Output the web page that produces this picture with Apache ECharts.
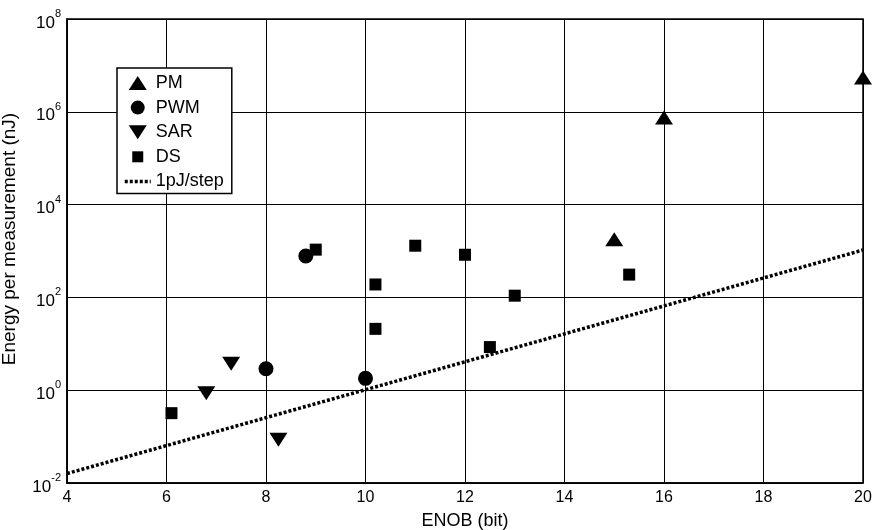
<!DOCTYPE html>
<html><head><meta charset="utf-8">
<script src="https://cdn.jsdelivr.net/npm/echarts@6/dist/echarts.min.js"></script>
<style>html,body{margin:0;padding:0;background:#fff}#c{width:876px;height:530px}</style>
</head><body><div id="c"></div>
<script>
const pmX = [15, 16, 20];
const pmY = [1800, 750000, 5500000];
const pwmX = [8, 8.8, 10];
const pwmY = [2.9, 780, 1.8];
const sarX = [6.8, 7.3, 8.25];
const sarY = [0.86, 3.7, 0.085];
const dsX = [6.1, 9.0, 10.2, 10.2, 11, 12, 12.5, 13, 15.3];
const dsY = [0.32, 1070, 190, 21, 1300, 830, 8.5, 109, 310];
const refX = [4, 20];
const refY = [0.016, 1049];
const xTicks = [4, 6, 8, 10, 12, 14, 16, 18, 20];
const yExps = [-2, 0, 2, 4, 6, 8];
const legendNames = ['PM', 'PWM', 'SAR', 'DS', '1pJ/step'];

const zip = (a, b) => a.map((v, i) => [v, b[i]]);
const FONT = 'Liberation Sans';
const upTri = 'path://M9,0 L18,14 L0,14 Z';
const downTri = 'path://M0,0 L18,0 L9,14 Z';
const sq = 'path://M-1.5,-1.5 M0,0 L11,0 L11,11 L0,11 Z M12.5,12.5';
const dotStyle = {color: '#000', width: 3.5, type: [3, 2]};

const chart = echarts.init(document.getElementById('c'), null, {renderer: 'canvas'});
chart.setOption({
  animation: false,
  textStyle: {fontFamily: FONT, color: '#000'},
  grid: {left: 67, right: 13, top: 19, bottom: 47, containLabel: false, outerBoundsMode: 'none',
         show: true, borderColor: '#000', borderWidth: 1.5, backgroundColor: 'transparent'},
  legend: {
    orient: 'vertical', left: 117, top: 68,
    padding: [6, 8, 3, 6],
    itemWidth: 26, itemHeight: 14, itemGap: 6.6,
    symbolKeepAspect: true,
    backgroundColor: '#fff', borderColor: '#000', borderWidth: 1.5, borderRadius: 0,
    textStyle: {fontFamily: FONT, fontSize: 18, color: '#000'},
    data: [
      {name: legendNames[0], icon: upTri},
      {name: legendNames[1], icon: 'circle'},
      {name: legendNames[2], icon: downTri},
      {name: legendNames[3], icon: sq},
      {name: legendNames[4], lineStyle: dotStyle,
       itemStyle: {color: 'rgba(0,0,0,0)', borderWidth: 0, opacity: 0}}
    ]
  },
  xAxis: {
    type: 'value', min: xTicks[0], max: xTicks[xTicks.length - 1], interval: 2,
    name: 'ENOB (bit)', nameLocation: 'middle', nameGap: 29,
    nameTextStyle: {fontFamily: FONT, fontSize: 18, color: '#000'},
    axisLine: {show: true, lineStyle: {color: '#000', width: 1.5}},
    axisTick: {show: true, inside: true, length: 4, lineStyle: {color: '#000'}},
    axisLabel: {fontFamily: FONT, fontSize: 16, color: '#000', margin: 7},
    splitLine: {show: true, lineStyle: {color: '#000', width: 1}}
  },
  yAxis: {
    type: 'log', logBase: 10, min: Math.pow(10, yExps[0]), max: Math.pow(10, yExps[yExps.length - 1]), interval: 2,
    name: 'Energy per measurement (nJ)', nameLocation: 'middle', nameGap: 48,
    nameTextStyle: {fontFamily: FONT, fontSize: 19, color: '#000', padding: [0, 0, 0, 24]},
    axisLine: {show: true, lineStyle: {color: '#000', width: 1.5}},
    axisTick: {show: true, inside: true, length: 4, lineStyle: {color: '#000'}},
    axisLabel: {
      margin: 6,
      formatter: v => '{b|10}{s|' + Math.round(Math.log10(v)) + '}',
      rich: {
        b: {fontFamily: FONT, fontSize: 17, color: '#000', padding: [8, 0, 0, 0]},
        s: {fontFamily: FONT, fontSize: 11, color: '#000', padding: [0, 0, 10, 0]}
      }
    },
    splitLine: {show: true, lineStyle: {color: '#000', width: 1}}
  },
  series: [
    {name: legendNames[4], type: 'line', data: zip(refX, refY), symbol: 'none', z: 3,
     lineStyle: dotStyle, itemStyle: {color: '#000'}},
    {name: legendNames[0], type: 'scatter', data: zip(pmX, pmY), symbol: 'triangle', symbolSize: [18, 14],
     itemStyle: {color: '#000', opacity: 1}, z: 5},
    {name: legendNames[1], type: 'scatter', data: zip(pwmX, pwmY), symbol: 'circle', symbolSize: 15,
     itemStyle: {color: '#000', opacity: 1}, z: 5},
    {name: legendNames[2], type: 'scatter', data: zip(sarX, sarY), symbol: downTri, symbolSize: [18, 14],
     symbolKeepAspect: false, itemStyle: {color: '#000', opacity: 1}, z: 5},
    {name: legendNames[3], type: 'scatter', data: zip(dsX, dsY), symbol: 'rect', symbolSize: 12,
     itemStyle: {color: '#000', opacity: 1}, z: 5}
  ]
});
</script></body></html>
